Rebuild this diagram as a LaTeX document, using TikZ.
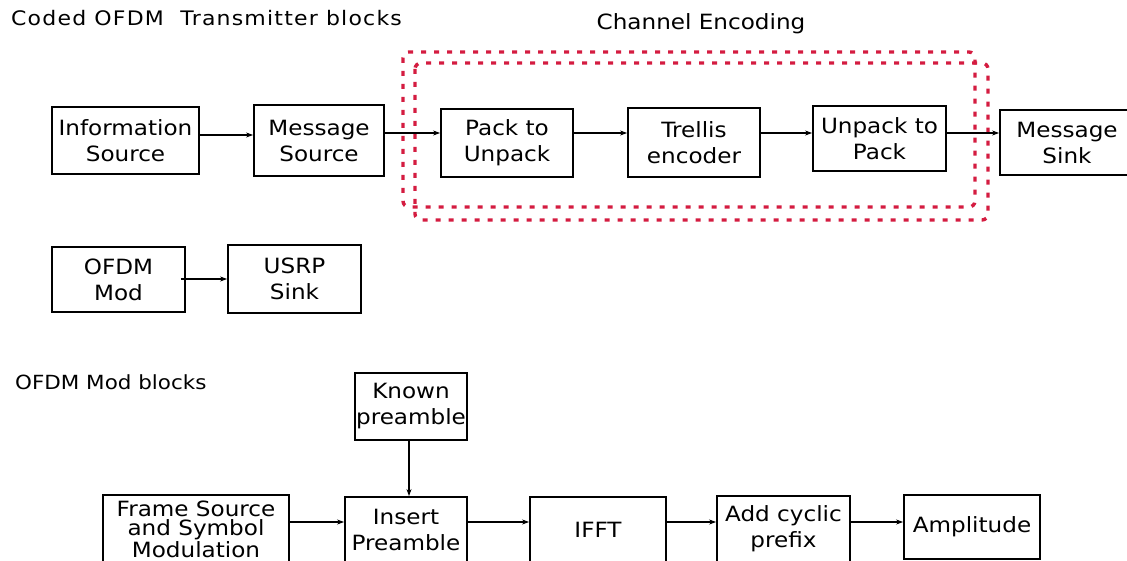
\documentclass[tikz,border=0pt]{standalone}
\usepackage{fontspec}
\setmainfont{DejaVu Sans}[FakeStretch=1.1]
\usetikzlibrary{arrows.meta}
\definecolor{encred}{RGB}{212,28,64}
\tikzset{
  blk/.style={draw=black, line width=1.8pt, inner sep=0pt, align=center,
    font=\fontsize{21}{26}\selectfont},
  arr/.style={line width=1.4pt, -{Stealth[length=7pt,width=5pt]}},
  heading/.style={inner sep=0pt, font=\fontsize{20}{24}\selectfont},
  encbox/.style={draw=encred, line width=3.4pt, rounded corners=6pt,
    dash pattern=on 5pt off 8pt},
}
\begin{document}
\begin{tikzpicture}[x=1pt, y=-1pt]
\useasboundingbox (0,0) rectangle (1127,561);
\clip (0,0) rectangle (1127,561);

% headings
\node[heading, anchor=west, font=\fontsize{20}{24}\selectfont\addfontfeature{LetterSpace=6}] (t1) at (11,18) {Coded OFDM \ Transmitter blocks};
\node[heading, font=\fontsize{21}{24}\selectfont] (t2) at (701,24) {Channel Encoding};
\node[heading, anchor=west, font=\fontsize{19.5}{24}\selectfont] (t3) at (15,382) {OFDM Mod blocks};

% channel encoding frame: two offset dashed outlines
\draw[encbox] (403,52) rectangle (975,207);
\draw[encbox] (415,63) rectangle (988,220);

% transmitter chain
\node[blk, minimum width=147, minimum height=67] (info)  at (125.5,140.5) {Information\\Source};
\node[blk, minimum width=130, minimum height=71] (msrc)  at (319,140.5)   {Message\\Source};
\node[blk, minimum width=132, minimum height=68] (pack)  at (507,143)     {Pack to\\Unpack};
\node[blk, minimum width=132, minimum height=69] (trel)  at (694,142.5)   {Trellis\\encoder};
\node[blk, minimum width=133, minimum height=65] (unp)   at (879.5,138.5) {Unpack to\\Pack};
\node[blk, minimum width=134, minimum height=65] (msink) at (1067,142.5)  {Message\\Sink};

\node[blk, minimum width=133, minimum height=65] (ofdm) at (118.5,279.5) {OFDM\\Mod};
\node[blk, minimum width=133, minimum height=68] (usrp) at (294.5,279)   {USRP\\Sink};

% OFDM modulator chain
\node[blk, minimum width=112, minimum height=67] (known) at (411,406.5) {Known\\preamble};
\node[blk, minimum width=186, minimum height=68, font=\fontsize{21}{19.5}\selectfont] (frame) at (196,529) {Frame Source\\and Symbol\\Modulation};
\node[blk, minimum width=122, minimum height=66] (ins)  at (406,530)   {Insert\\Preamble};
\node[blk, minimum width=136, minimum height=66] (ifft) at (598,530)   {IFFT};
\node[blk, minimum width=133, minimum height=66] (addc) at (783.5,529) {Add cyclic\\prefix};
\node[blk, minimum width=136, minimum height=64] (ampl) at (972,527)   {Amplitude};

% connector rows and columns
\coordinate (rowa) at (0,133);
\coordinate (rowi) at (0,135);
\coordinate (rowb) at (0,522);
\coordinate (colk) at (409,0);

\draw[arr] (info.east |- rowi) -- (msrc.west |- rowi);
\draw[arr] (msrc.east |- rowa) -- (pack.west |- rowa);
\draw[arr] (pack.east |- rowa) -- (trel.west |- rowa);
\draw[arr] (trel.east |- rowa) -- (unp.west |- rowa);
\draw[arr] (unp.east |- rowa) -- (msink.west |- rowa);
\draw[arr] ([xshift=-5pt]ofdm.east |- usrp.west) -- (usrp.west);

\draw[arr] (known.south -| colk) -- (ins.north -| colk);
\draw[arr] (frame.east |- rowb) -- (ins.west |- rowb);
\draw[arr] (ins.east |- rowb) -- (ifft.west |- rowb);
\draw[arr] (ifft.east |- rowb) -- (addc.west |- rowb);
\draw[arr] (addc.east |- rowb) -- (ampl.west |- rowb);
\end{tikzpicture}
\end{document}
